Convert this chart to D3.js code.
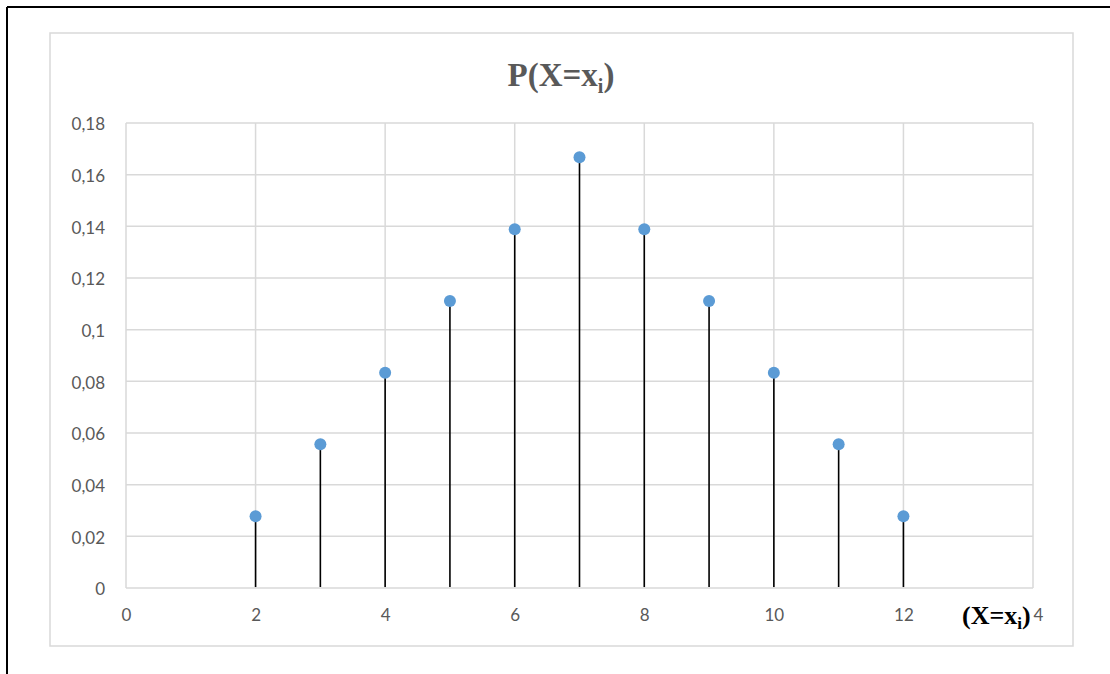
<!DOCTYPE html>
<html><head><meta charset="utf-8">
<script src="https://cdn.jsdelivr.net/npm/d3@7"></script>
<style>body{margin:0;background:#fff;} svg{display:block;}</style>
</head><body>
<svg id="c" width="1110" height="674"></svg>
<script>
const xValues = [2,3,4,5,6,7,8,9,10,11,12];
const probabilities = [0.0278,0.0556,0.0833,0.1111,0.1389,0.1667,0.1389,0.1111,0.0833,0.0556,0.0278];
const xTicks = [0,2,4,6,8,10,12,14];
const yTicks = [0,0.02,0.04,0.06,0.08,0.1,0.12,0.14,0.16,0.18];

const svg = d3.select("#c");
svg.append("line").attr("x1",7).attr("x2",1110).attr("y1",7).attr("y2",7).attr("stroke","#000").attr("stroke-width",2);
svg.append("line").attr("x1",7).attr("x2",7).attr("y1",7).attr("y2",674).attr("stroke","#000").attr("stroke-width",2);
svg.append("rect").attr("x",50).attr("y",33).attr("width",1023).attr("height",613).attr("fill","#fff").attr("stroke","#d9d9d9").attr("stroke-width",1.5);

const L=126,R=1033,T=123,B=588;
const x = d3.scaleLinear().domain([0,14]).range([L,R]);
const y = d3.scaleLinear().domain([0,0.18]).range([B,T]);

const g = svg.append("g");
g.selectAll(".hg").data(yTicks).join("line").attr("x1",L).attr("x2",R).attr("y1",d=>y(d)).attr("y2",d=>y(d)).attr("stroke","#d9d9d9").attr("stroke-width",1.5);
g.selectAll(".vg").data(xTicks).join("line").attr("x1",d=>x(d)).attr("x2",d=>x(d)).attr("y1",T).attr("y2",B).attr("stroke","#d9d9d9").attr("stroke-width",1.5);

const fmt = d => String(+d.toFixed(2)).replace(".",",");
const yAxis = g.append("g").attr("transform",`translate(${L},0)`).call(d3.axisLeft(y).tickValues(yTicks).tickFormat(fmt).tickSize(0).tickPadding(21));
const xAxis = g.append("g").attr("transform",`translate(0,${B})`).call(d3.axisBottom(x).tickValues(xTicks).tickFormat(d=>d).tickSize(0).tickPadding(21));
[yAxis,xAxis].forEach(a=>{a.select(".domain").remove();a.selectAll("text").attr("fill","#595959").style("font-family","Lato, 'Open Sans', sans-serif").style("font-size","17px");});
yAxis.selectAll("text").attr("dy","0.4em");

g.selectAll(".stem").data(xValues).join("line").attr("x1",d=>x(d)).attr("x2",d=>x(d)).attr("y1",(d,i)=>y(probabilities[i])).attr("y2",B-1).attr("stroke","#000").attr("stroke-width",1.6);
g.selectAll(".pt").data(xValues).join("circle").attr("cx",d=>x(d)).attr("cy",(d,i)=>y(probabilities[i])).attr("r",6).attr("fill","#5b9bd5");

const title = svg.append("text").attr("x",561).attr("y",86).attr("text-anchor","middle").attr("fill","#595959").style("font-family","'Liberation Serif', serif").style("font-weight","bold").style("font-size","33px");
title.append("tspan").text("P(X=x");
title.append("tspan").text("i").attr("dy",7).style("font-size","20px");
title.append("tspan").text(")").attr("dy",-7);

svg.append("rect").attr("x",960).attr("y",600).attr("width",73).attr("height",32).attr("fill","#fff");
const xl = svg.append("text").attr("x",962).attr("y",624).attr("fill","#000").style("font-family","'Liberation Serif', serif").style("font-weight","bold").style("font-size","26px");
xl.append("tspan").text("(X=x");
xl.append("tspan").text("i").attr("dy",5).style("font-size","17px");
xl.append("tspan").text(")").attr("dy",-5);
</script>
</body></html>
